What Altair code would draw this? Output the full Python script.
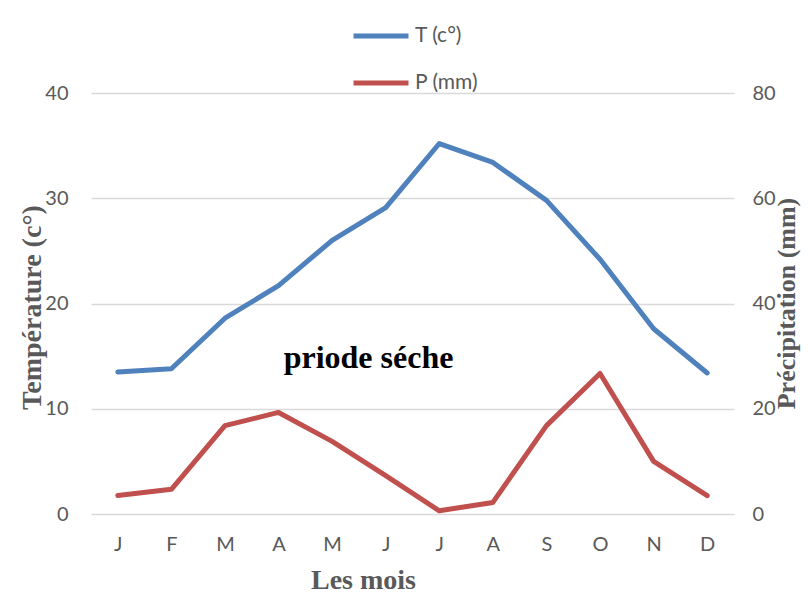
import altair as alt
import pandas as pd

months = ["J", "F", "M", "A", "M", "J", "J", "A", "S", "O", "N", "D"]
month_num = list(range(1, 13))
temperature = [13.5, 13.8, 18.6, 21.7, 26.0, 29.1, 35.2, 33.4, 29.8, 24.2, 17.6, 13.4]
precipitation = [3.5, 4.7, 16.8, 19.3, 13.8, 7.3, 0.6, 2.2, 16.8, 26.7, 10.0, 3.5]
series_names = ["T (c°)", "P (mm)"]
series_colors = ["#4F81BD", "#C0504D"]
annotation_text = ["priode séche"]
annotation_x = [5.68]
annotation_y = [13.9]

df_t = pd.DataFrame({"m": month_num, "v": temperature, "s": series_names[0]})
df_p = pd.DataFrame({"m": month_num, "v": precipitation, "s": series_names[1]})
df_txt = pd.DataFrame({"x": annotation_x, "y": annotation_y, "label": annotation_text})

label_expr = "[" + ",".join("'" + m + "'" for m in months) + "][datum.value - 1]"

GRAY = "#595959"
SERIF = "Liberation Serif"
SANS = "Lato"

x_enc = alt.X(
    "m:Q",
    scale=alt.Scale(domain=[0.5, 12.5], nice=False, zero=False),
    axis=alt.Axis(
        values=month_num, labelExpr=label_expr, grid=False, domain=False, ticks=False,
        labelFont=SANS, labelFontSize=20, labelColor=GRAY, labelPadding=20,
        title="Les mois", titleFont=SERIF, titleFontSize=28, titleFontWeight="bold",
        titleColor=GRAY, titleX=272, titleY=66, titleAlign="center", titleBaseline="middle",
    ),
)

color_enc = alt.Color(
    "s:N",
    scale=alt.Scale(domain=series_names, range=series_colors),
    legend=alt.Legend(
        title=None, orient="none", legendX=260, legendY=-87, direction="vertical",
        symbolType="stroke", symbolStrokeWidth=5, symbolSize=3025,
        labelFont=SANS, labelFontSize=21, labelColor=GRAY, labelOffset=4,
        rowPadding=7, padding=0,
    ),
)

t_line = alt.Chart(df_t).mark_line(strokeWidth=5, strokeCap="round", strokeJoin="round").encode(
    x=x_enc,
    y=alt.Y(
        "v:Q",
        scale=alt.Scale(domain=[0, 40], nice=False),
        axis=alt.Axis(
            values=[0, 10, 20, 30, 40], orient="left", domain=False, ticks=False,
            grid=True, gridColor="#D9D9D9", gridWidth=1.3,
            labelFont=SANS, labelFontSize=20, labelColor=GRAY, labelPadding=23,
            title="Température (c°)", titleFont=SERIF, titleFontSize=28,
            titleFontWeight="bold", titleColor=GRAY, titleAngle=270,
            titleX=-59, titleY=214, titleAlign="center", titleBaseline="middle",
        ),
    ),
    color=color_enc,
)

txt = alt.Chart(df_txt).mark_text(
    font=SERIF, fontSize=32, fontWeight="bold", color="black",
    align="center", baseline="alphabetic",
).encode(
    x=alt.X("x:Q"),
    y=alt.Y("y:Q"),
    text="label:N",
)

p_line = alt.Chart(df_p).mark_line(strokeWidth=5, strokeCap="round", strokeJoin="round").encode(
    x=x_enc,
    y=alt.Y(
        "v:Q",
        scale=alt.Scale(domain=[0, 80], nice=False),
        axis=alt.Axis(
            values=[0, 20, 40, 60, 80], orient="right", domain=False, ticks=False,
            grid=False,
            labelFont=SANS, labelFontSize=20, labelColor=GRAY, labelPadding=18,
            title="Précipitation (mm)", titleFont=SERIF, titleFontSize=26,
            titleFontWeight="bold", titleColor=GRAY, titleAngle=270,
            titleX=52, titleY=210, titleAlign="center", titleBaseline="middle",
        ),
    ),
    color=color_enc,
)

chart = (
    alt.layer(alt.layer(t_line, txt), p_line)
    .resolve_scale(y="independent")
    .properties(
        width=643, height=421,
        autosize=alt.AutoSizeParams(type="none"),
        padding={"left": 83, "top": 85, "right": 68, "bottom": 88},
    )
    .configure_view(strokeWidth=0)
)

chart.save("out.html", embed_options={"renderer": "svg", "actions": False})
